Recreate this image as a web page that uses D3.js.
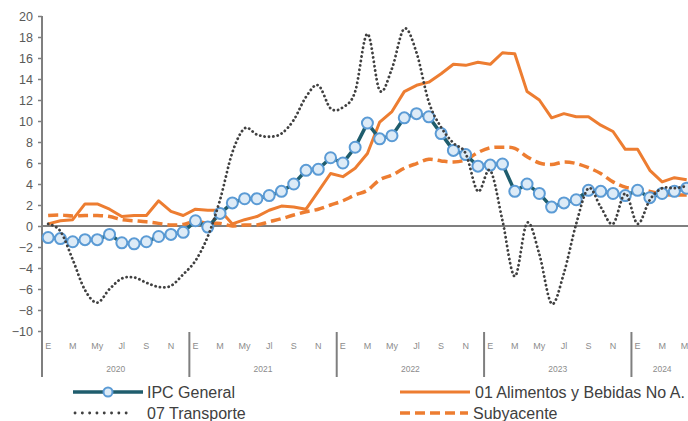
<!DOCTYPE html>
<html>
<head>
<meta charset="utf-8">
<script src="https://cdn.jsdelivr.net/npm/d3@7"></script>
<style>
body { margin: 0; background: #fff; }
text { font-family: "Liberation Sans", Arial, sans-serif; }
</style>
</head>
<body>
<div id="chart"></div>
<script>
// monthly inflation, Jan 2020 .. May 2024
const years = ["2020", "2021", "2022", "2023", "2024"];
const month_labels = ["E", "", "M", "", "My", "", "Jl", "", "S", "", "N", ""];
const y_ticks = [-10, -8, -6, -4, -2, 0, 2, 4, 6, 8, 10, 12, 14, 16, 18, 20];

const ipc_general = [
	-1.1, -1.2, -1.5, -1.3, -1.3, -0.8, -1.6, -1.7, -1.5, -1.0, -0.8, -0.6,
	0.5, -0.1, 1.2, 2.2, 2.6, 2.6, 2.9, 3.3, 4.0, 5.3, 5.4, 6.5,
	6.0, 7.5, 9.8, 8.3, 8.6, 10.3, 10.7, 10.4, 8.8, 7.2, 6.8, 5.7,
	5.8, 5.9, 3.3, 4.0, 3.1, 1.8, 2.2, 2.5, 3.4, 3.3, 3.1, 2.9,
	3.4, 2.7, 3.1, 3.3, 3.6
];
const alimentos = [
	0.2, 0.5, 0.6, 2.1, 2.1, 1.6, 0.9, 1.0, 1.0, 2.4, 1.4, 1.0,
	1.6, 1.5, 1.5, 0.2, 0.6, 0.9, 1.5, 1.9, 1.8, 1.6, 3.3, 5.0,
	4.7, 5.5, 6.9, 9.9, 10.9, 12.8, 13.4, 13.7, 14.5, 15.4, 15.3, 15.6,
	15.4, 16.5, 16.4, 12.8, 12.0, 10.3, 10.7, 10.4, 10.4, 9.6, 9.0, 7.3,
	7.3, 5.3, 4.2, 4.6, 4.4
];
const transporte = [
	0.2, -0.5, -3.2, -6.1, -7.3, -6.0, -5.0, -4.9, -5.4, -5.8, -5.7, -4.6,
	-3.3, -1.0, 2.5, 7.0, 9.3, 8.7, 8.5, 8.8, 10.1, 12.3, 13.4, 11.2,
	11.3, 12.8, 18.3, 12.9, 15.0, 18.8, 16.5, 11.8, 9.4, 7.9, 6.9, 3.3,
	5.3, 0.5, -4.8, 0.3, -2.7, -7.4, -4.5, 0.2, 3.6, 1.8, 0.2, 3.1,
	0.2, 2.5, 3.6, 3.6, 3.8
];
const subyacente = [
	1.0, 1.05, 0.95, 1.0, 1.0, 0.9, 0.6, 0.5, 0.4, 0.25, 0.1, 0.15,
	0.45, 0.25, 0.25, 0.0, 0.1, 0.1, 0.4, 0.7, 1.05, 1.35, 1.6, 2.0,
	2.4, 2.95, 3.4, 4.4, 4.85, 5.5, 5.95, 6.35, 6.2, 6.1, 6.3, 7.0,
	7.45, 7.5, 7.4, 6.6, 6.0, 5.85, 6.1, 5.95, 5.55, 5.0, 4.2, 3.7,
	3.5, 3.3, 3.0, 2.95, 2.95
];

const canvas_width = 688;
const canvas_height = 421;
const plot_left = 42;
const month_width = 12.28;
const n_months = ipc_general.length;

const teal = "#1f5d6d";
const orange = "#ed7d31";
const grey = "#7f7f7f";

let svg = d3.select("#chart").append("svg")
	.attr("width", canvas_width)
	.attr("height", canvas_height);

let x = d3.scaleBand()
	.domain(d3.range(n_months))
	.range([plot_left, plot_left + n_months * month_width]);

let y = d3.scaleLinear()
	.domain([-10, 20])
	.range([331, 16]);

let xc = i => x(i) + x.bandwidth() / 2;

// y axis
let y_axis = svg.append("g")
	.attr("transform", `translate(${plot_left},0)`)
	.call(d3.axisLeft(y).tickValues(y_ticks).tickSize(4).tickSizeOuter(0));
y_axis.select(".domain").remove();
y_axis.selectAll(".tick line").attr("stroke", grey).attr("stroke-width", 1.5);
y_axis.selectAll(".tick text")
	.attr("x", -9)
	.attr("fill", "#595959")
	.style("font-size", "12.5px");

svg.append("line")
	.attr("x1", plot_left).attr("x2", plot_left)
	.attr("y1", y(20)).attr("y2", 377)
	.attr("stroke", grey).attr("stroke-width", 2);

// category labels below the plot
let months = d3.range(n_months);
svg.append("g").selectAll("text")
	.data(months.filter(i => month_labels[i % 12] !== ""))
	.join("text")
	.attr("x", i => xc(i))
	.attr("y", 349)
	.attr("text-anchor", "middle")
	.attr("fill", "#8c8c8c")
	.style("font-size", "9px")
	.text(i => month_labels[i % 12]);

years.forEach((yr, k) => {
	let first = k * 12;
	let last = Math.min(first + 12, n_months);
	svg.append("text")
		.attr("x", x(first) + (last - first) * month_width / 2)
		.attr("y", 372)
		.attr("text-anchor", "middle")
		.attr("fill", "#8c8c8c")
		.style("font-size", "8.5px")
		.text(yr);
	if (k > 0) {
		svg.append("line")
			.attr("x1", x(first)).attr("x2", x(first))
			.attr("y1", 332).attr("y2", 377)
			.attr("stroke", grey).attr("stroke-width", 2);
	}
});

// zero line
svg.append("line")
	.attr("x1", plot_left).attr("x2", canvas_width)
	.attr("y1", y(0)).attr("y2", y(0))
	.attr("stroke", grey).attr("stroke-width", 2);

let straight = d3.line().x((d, i) => xc(i)).y(d => y(d));
let smooth = d3.line().x((d, i) => xc(i)).y(d => y(d)).curve(d3.curveCardinal.tension(0));

svg.append("path")
	.attr("d", straight(alimentos))
	.attr("fill", "none")
	.attr("stroke", orange)
	.attr("stroke-width", 3)
	.attr("stroke-linejoin", "round");

svg.append("path")
	.attr("d", smooth(subyacente))
	.attr("fill", "none")
	.attr("stroke", orange)
	.attr("stroke-width", 3.5)
	.attr("stroke-dasharray", "10 5");

svg.append("path")
	.attr("d", straight(ipc_general))
	.attr("fill", "none")
	.attr("stroke", teal)
	.attr("stroke-width", 3.5);

svg.append("g").selectAll("circle")
	.data(ipc_general)
	.join("circle")
	.attr("cx", (d, i) => xc(i))
	.attr("cy", d => y(d))
	.attr("r", 5.5)
	.attr("fill", "#ddebf7")
	.attr("stroke", "#5b9bd5")
	.attr("stroke-width", 2);

svg.append("path")
	.attr("d", smooth(transporte))
	.attr("fill", "none")
	.attr("stroke", "#404040")
	.attr("stroke-width", 2.8)
	.attr("stroke-linecap", "round")
	.attr("stroke-dasharray", "0.1 4.3");

// legend
let legend = svg.append("g");
function legend_text(tx, ty, label) {
	legend.append("text")
		.attr("x", tx)
		.attr("y", ty + 5.5)
		.attr("fill", "#404040")
		.style("font-size", "16px")
		.text(label);
}

legend.append("line")
	.attr("x1", 73).attr("x2", 143).attr("y1", 392).attr("y2", 392)
	.attr("stroke", teal).attr("stroke-width", 3.5);
legend.append("circle")
	.attr("cx", 108).attr("cy", 392).attr("r", 4.5)
	.attr("fill", "#ddebf7").attr("stroke", "#5b9bd5").attr("stroke-width", 2);
legend_text(147, 392, "IPC General");

legend.append("line")
	.attr("x1", 400).attr("x2", 470).attr("y1", 392).attr("y2", 392)
	.attr("stroke", orange).attr("stroke-width", 3);
legend_text(475, 392, "01 Alimentos y Bebidas No A.");

legend.append("line")
	.attr("x1", 75).attr("x2", 133).attr("y1", 413).attr("y2", 413)
	.attr("stroke", "#404040").attr("stroke-width", 2.8)
	.attr("stroke-linecap", "round").attr("stroke-dasharray", "0.1 7.2");
legend_text(147, 413, "07 Transporte");

legend.append("line")
	.attr("x1", 400).attr("x2", 468).attr("y1", 413).attr("y2", 413)
	.attr("stroke", orange).attr("stroke-width", 3.5)
	.attr("stroke-dasharray", "10 5");
legend_text(473, 413, "Subyacente");
</script>
</body>
</html>
